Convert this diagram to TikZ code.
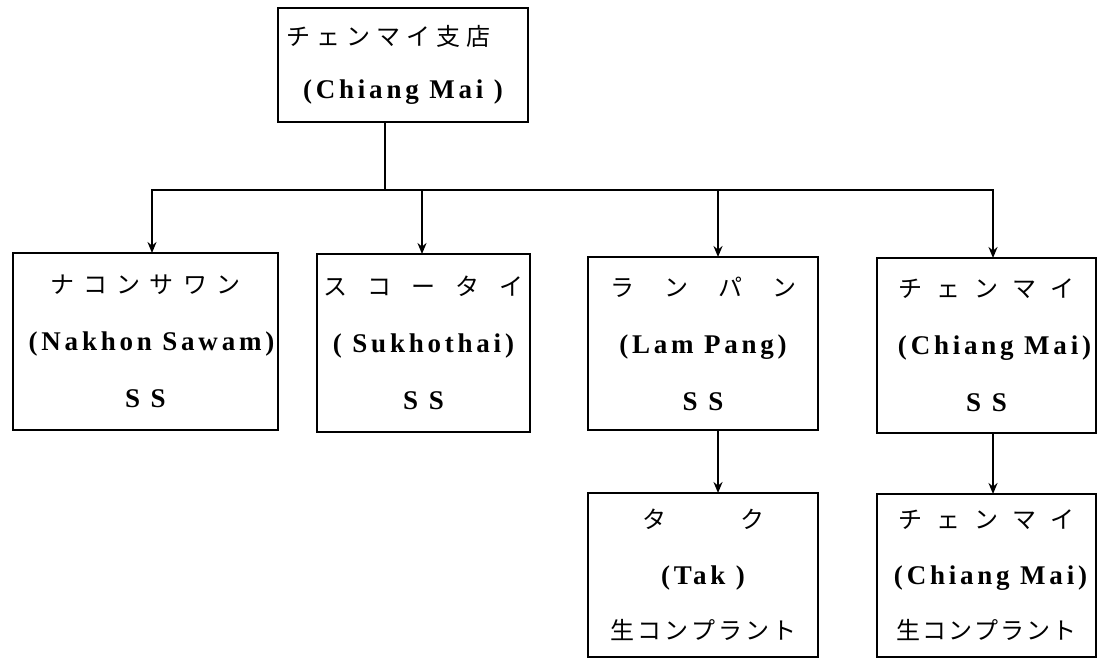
\documentclass[tikz,border=0pt]{standalone}
\usepackage{fontspec}
\setmainfont{Liberation Serif}
\newfontfamily\jp{Noto Sans CJK JP}
\newfontfamily\lt[LetterSpace=14]{Liberation Serif}
\usetikzlibrary{arrows.meta}
\newcommand\gp[1]{\hspace{#1pt}}
\newcommand\ja[1]{{\jp\fontsize{24}{24}\selectfont #1}}
\newcommand\la[1]{{\lt\bfseries #1}}
\begin{document}
\begin{tikzpicture}[x=1pt,y=-1pt,
  box/.style={draw, line width=2pt, rectangle, inner sep=0pt, outer sep=0pt,
    anchor=north west, align=center, font=\fontsize{27}{57}\selectfont},
  topbox/.style={box, font=\fontsize{27}{53}\selectfont},
  conn/.style={line width=2pt},
  arr/.style={line width=2pt, -{Stealth[length=11pt,width=9pt]}}]
\useasboundingbox (0,0) rectangle (1099,658);

\node[topbox, minimum width=250pt, minimum height=114pt] (top) at (278,8)
  {\ja{チ\gp{6}ェ\gp{6}ン\gp{6}マ\gp{6}イ\gp{6}支\gp{6}店}\hspace*{30pt}\\ \la{(Chiang Mai )}};

\node[box, minimum width=265pt, minimum height=177pt] (b1) at (13,253)
  {\ja{ナ\gp{9}コ\gp{9}ン\gp{9}サ\gp{9}ワ\gp{9}ン}\\ \hspace*{12pt}\la{(Nakhon Sawam)}\\ \la{S S}};
\node[box, minimum width=213pt, minimum height=178pt] (b2) at (317,254)
  {\ja{ス\gp{20}コ\gp{20}ー\gp{20}タ\gp{20}イ}\\ \la{( Sukhothai)}\\ \la{S S}};
\node[box, minimum width=230pt, minimum height=173pt] (b3) at (588,257)
  {\ja{ラ\gp{30}ン\gp{30}パ\gp{30}ン}\\ \la{(Lam Pang)}\\ \la{S S}};
\node[box, minimum width=219pt, minimum height=175pt] (b4) at (877,258)
  {\ja{チ\gp{14}ェ\gp{14}ン\gp{14}マ\gp{14}イ}\\ \hspace*{16pt}\la{(Chiang Mai)}\\ \la{S S}};
\node[box, minimum width=230pt, minimum height=164pt, font=\fontsize{27}{55.5}\selectfont] (b5) at (588,493)
  {\ja{タ\gp{74}ク}\\ \la{(Tak )}\\ \ja{生\gp{3}コ\gp{3}ン\gp{3}プ\gp{3}ラ\gp{3}ン\gp{3}ト}};
\node[box, minimum width=219pt, minimum height=163pt, font=\fontsize{27}{55.5}\selectfont] (b6) at (877,494)
  {\ja{チ\gp{14}ェ\gp{14}ン\gp{14}マ\gp{14}イ}\\ \hspace*{8pt}\la{(Chiang Mai)}\\ \ja{生\gp{2}コ\gp{2}ン\gp{2}プ\gp{2}ラ\gp{2}ン\gp{2}ト}};

\coordinate (hub) at (385,190);
\coordinate (t1) at (152,190);
\coordinate (t2) at (422,190);
\coordinate (t3) at (718,190);
\coordinate (t4) at (993,190);

\draw[conn] (top.south -| hub) -- (hub);
\draw[arr] (hub) -- (t1) -- (t1 |- b1.north);
\draw[arr] (hub) -- (t4) -- (t4 |- b4.north);
\draw[arr] (t2) -- (t2 |- b2.north);
\draw[arr] (t3) -- (t3 |- b3.north);
\draw[arr] (b3.south -| t3) -- (b5.north -| t3);
\draw[arr] (b4.south -| t4) -- (b6.north -| t4);
\end{tikzpicture}
\end{document}
